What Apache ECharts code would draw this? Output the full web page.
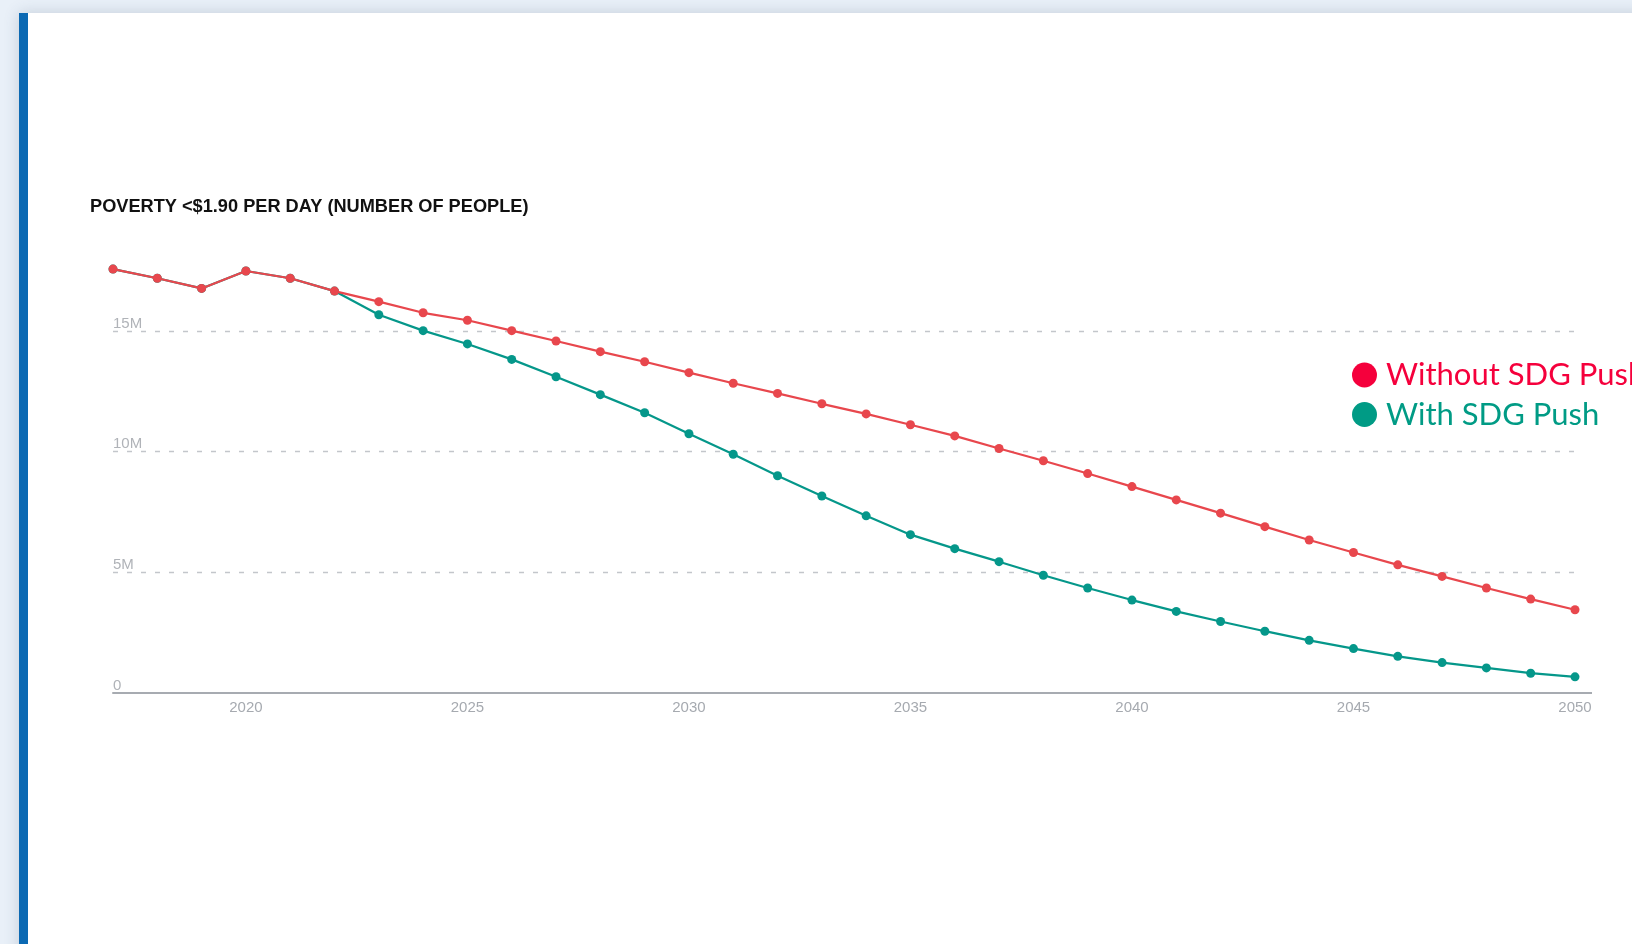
<!DOCTYPE html>
<html>
<head>
<meta charset="utf-8">
<script src="https://cdn.jsdelivr.net/npm/echarts@6/dist/echarts.min.js"></script>
<style>
  html, body { margin: 0; padding: 0; width: 1632px; height: 944px; overflow: hidden; background: #e9f0f8; }
  #card { position: absolute; left: 19px; top: 13px; width: 1700px; height: 1000px; background: #fff;
          border-left: 9px solid #0b69b3; box-shadow: 0 0 14px rgba(60,80,110,0.22); }
  #chart { position: absolute; left: 0; top: 0; width: 1632px; height: 944px; }
</style>
</head>
<body>
<div id="card"></div>
<div id="chart"></div>
<script>
const years = [];
for (let y = 2017; y <= 2050; y++) years.push(String(y));

// Millions of people
const withoutSdgPush = [17.56, 17.18, 16.76, 17.48, 17.18, 16.65, 16.21, 15.75, 15.44, 15.01,
  14.58, 14.14, 13.72, 13.27, 12.83, 12.41, 11.98, 11.56, 11.11, 10.65,
  10.13, 9.62, 9.09, 8.55, 8.00, 7.45, 6.89, 6.34, 5.82, 5.31,
  4.83, 4.35, 3.89, 3.45];
const withSdgPush = [17.56, 17.18, 16.76, 17.48, 17.18, 16.65, 15.67, 15.01, 14.46, 13.82,
  13.10, 12.36, 11.61, 10.74, 9.89, 9.00, 8.16, 7.34, 6.56, 5.98,
  5.44, 4.88, 4.35, 3.85, 3.38, 2.96, 2.56, 2.18, 1.84, 1.52,
  1.26, 1.04, 0.82, 0.67];
const yTickLabels = { 0: '0', 5000000: '5M', 10000000: '10M', 15000000: '15M' };
const titleText = 'POVERTY <$1.90 PER DAY (NUMBER OF PEOPLE)';
const seriesNames = ['Without SDG Push', 'With SDG Push'];

const toPeople = arr => arr.map(v => Math.round(v * 1e6));

const chart = echarts.init(document.getElementById('chart'), null, { renderer: 'canvas' });
const option = {
  backgroundColor: 'transparent',
  animation: false,
  title: {
    text: titleText,
    left: 85, top: 193,
    textStyle: { fontFamily: 'Liberation Sans', fontWeight: 'bold', fontSize: 18.2, color: '#111' }
  },
  legend: {
    orient: 'vertical',
    left: 1347, top: 354.5,
    icon: 'circle',
    itemWidth: 25, itemHeight: 25, itemGap: 8.5,
    textStyle: { fontFamily: 'Lato', fontSize: 31, lineHeight: 30, padding: [0, 0, 0, 4] },
    data: [
      { name: seriesNames[0], itemStyle: { color: '#f5003c' }, textStyle: { color: '#f5003c' } },
      { name: seriesNames[1], itemStyle: { color: '#009b85' }, textStyle: { color: '#009b85' } }
    ]
  },
  grid: { left: 113, right: 57, top: 210.2, bottom: 251, containLabel: false },
  xAxis: {
    type: 'category',
    data: years,
    boundaryGap: false,
    axisLine: { show: true, lineStyle: { color: '#a7abb1', width: 2 } },
    axisTick: { show: false },
    axisLabel: {
      interval: (idx, val) => Number(val) % 5 === 0,
      color: '#a6aab0', fontFamily: 'Liberation Sans', fontSize: 15, margin: 7
    },
    splitLine: { show: false }
  },
  yAxis: {
    type: 'value',
    min: 0, max: 20000000, interval: 5000000,
    axisLine: { show: false },
    axisTick: { show: false },
    axisLabel: {
      inside: true, margin: 0, verticalAlign: 'bottom', align: 'left',
      color: '#b0b3b8', fontFamily: 'Liberation Sans', fontSize: 15,
      showMaxLabel: false,
      formatter: v => yTickLabels[v] !== undefined ? yTickLabels[v] : ''
    },
    splitLine: {
      show: true, showMinLine: false, showMaxLine: false,
      lineStyle: { color: '#c3c6cb', width: 1.3, type: [5, 9] }
    }
  },
  series: [
    {
      name: seriesNames[1], type: 'line', data: toPeople(withSdgPush),
      symbol: 'circle', symbolSize: 9, z: 2,
      lineStyle: { color: '#05978a', width: 2.2 },
      itemStyle: { color: '#05978a' }
    },
    {
      name: seriesNames[0], type: 'line', data: toPeople(withoutSdgPush),
      symbol: 'circle', symbolSize: 9, z: 3,
      lineStyle: { color: '#e8474d', width: 2.2 },
      itemStyle: { color: '#e8474d' }
    }
  ]
};
chart.setOption(option);

// extend the baseline slightly beyond the last category, as in the reference
const pEnd = chart.convertToPixel({ gridIndex: 0 }, [years[years.length - 1], 0]);
chart.setOption({
  graphic: [{
    type: 'line', z: 1,
    shape: { x1: pEnd[0], y1: pEnd[1], x2: pEnd[0] + 17, y2: pEnd[1] },
    style: { stroke: '#a7abb1', lineWidth: 2 }
  }]
});
</script>
</body>
</html>
